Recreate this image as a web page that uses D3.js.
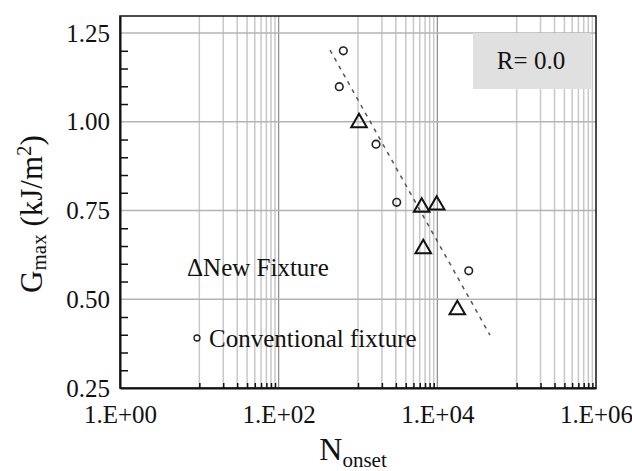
<!DOCTYPE html>
<html>
<head>
<meta charset="utf-8">
<script src="https://cdn.jsdelivr.net/npm/d3@7"></script>
<style>
  body { margin: 0; background: #fff; }
</style>
</head>
<body>
<div id="chart"></div>
<script>
// data
var newFixtureN = [1030, 6350, 9820, 6650, 17860];
var newFixtureG = [1.00, 0.762, 0.768, 0.645, 0.473];
var convN = [653, 581, 1687, 3075, 24880];
var convG = [1.200, 1.099, 0.937, 0.773, 0.580];
var fitN = [444, 46100];
var fitG = [1.202, 0.399];
var xMajor = [1, 1e2, 1e4, 1e6];
var xMajorLabels = ['1.E+00', '1.E+02', '1.E+04', '1.E+06'];
var yMajor = [0.25, 0.50, 0.75, 1.00, 1.25];

var FONT = '"Liberation Serif", "Times New Roman", Times, serif';

var dim = { width: 632, height: 471 };
var m = { left: 120, top: 16, right: 36, bottom: 83 };
var w = dim.width - m.left - m.right,
    h = dim.height - m.top - m.bottom;

var svg = d3.select('#chart').append('svg')
    .attr('width', dim.width)
    .attr('height', dim.height)
    .style('font-family', FONT);

var x = d3.scaleLog().domain([1, 1e6]).range([m.left, m.left + w]);
var y = d3.scaleLinear().domain([0.25, 1.298]).range([m.top + h, m.top]);

// excel style minor ticks: 10..90, 1000..9000, 1e5..9e5
var xMinor = [];
[10, 1000, 1e5].forEach(function (b) {
    for (var k = 1; k <= 9; k++) xMinor.push(b * k);
});
var yMinor = d3.range(0.30, 1.30, 0.05).filter(function (v) {
    return Math.abs(v / 0.25 - Math.round(v / 0.25)) > 0.01;
});

var grid = svg.append('g');
grid.selectAll('.vmin').data(xMinor).enter().append('line')
    .attr('x1', d => x(d)).attr('x2', d => x(d))
    .attr('y1', m.top).attr('y2', m.top + h)
    .attr('stroke', '#c8c8c8').attr('stroke-width', 1.5);
grid.selectAll('.vmaj').data([1e2, 1e4]).enter().append('line')
    .attr('x1', d => x(d)).attr('x2', d => x(d))
    .attr('y1', m.top).attr('y2', m.top + h)
    .attr('stroke', '#8a8a8a').attr('stroke-width', 1.2);
grid.selectAll('.hmaj').data(yMajor.slice(1)).enter().append('line')
    .attr('x1', m.left).attr('x2', m.left + w)
    .attr('y1', d => y(d)).attr('y2', d => y(d))
    .attr('stroke', '#b4b4b4').attr('stroke-width', 1.5);

// R box
svg.append('rect')
    .attr('x', 473).attr('y', 33).attr('width', 118).attr('height', 56)
    .attr('fill', '#e0e0e0');
svg.append('text')
    .attr('x', 531).attr('y', 69)
    .attr('text-anchor', 'middle')
    .style('font-family', FONT).style('font-size', '25px').attr('fill', '#111')
    .text('R= 0.0');

// frame
svg.append('rect')
    .attr('x', m.left).attr('y', m.top).attr('width', w).attr('height', h)
    .attr('fill', 'none').attr('stroke', '#111').attr('stroke-width', 1.5);

// axes
var xAxis = d3.axisBottom(x).tickValues(xMajor)
    .tickFormat((d, i) => xMajorLabels[i]).tickSize(0).tickPadding(17);
var gx = svg.append('g').attr('transform', 'translate(0,' + (m.top + h) + ')').call(xAxis);
gx.attr('font-family', null).attr('font-size', null);
gx.select('.domain').attr('stroke', '#111').attr('stroke-width', 2);
gx.selectAll('text').style('font-family', FONT).style('font-size', '25px').attr('fill', '#111');

var gxm = svg.append('g').attr('transform', 'translate(0,' + (m.top + h) + ')')
    .call(d3.axisTop(x).tickValues(xMinor).tickFormat('').tickSize(5));
gxm.select('.domain').remove();
gxm.selectAll('line').attr('stroke', '#111').attr('stroke-width', 1.5);

var yAxis = d3.axisLeft(y).tickValues(yMajor)
    .tickFormat(d3.format('.2f')).tickSize(0).tickPadding(10);
var gy = svg.append('g').attr('transform', 'translate(' + m.left + ',0)').call(yAxis);
gy.attr('font-family', null).attr('font-size', null);
gy.select('.domain').attr('stroke', '#111').attr('stroke-width', 2);
gy.selectAll('text').style('font-family', FONT).style('font-size', '25px').attr('fill', '#111');

var gym = svg.append('g').attr('transform', 'translate(' + m.left + ',0)')
    .call(d3.axisRight(y).tickValues(yMinor).tickFormat('').tickSize(8));
gym.select('.domain').remove();
gym.selectAll('line').attr('stroke', '#111').attr('stroke-width', 1.5);

// fit line
var line = d3.line().x(d => x(d[0])).y(d => y(d[1]));
svg.append('path')
    .datum(d3.zip(fitN, fitG))
    .attr('d', line)
    .attr('fill', 'none')
    .attr('stroke', '#555')
    .attr('stroke-width', 1.5)
    .attr('stroke-dasharray', '4,5');

// conventional fixture points
svg.selectAll('.conv').data(d3.zip(convN, convG)).enter().append('circle')
    .attr('cx', d => x(d[0])).attr('cy', d => y(d[1])).attr('r', 3.8)
    .attr('fill', 'none').attr('stroke', '#222').attr('stroke-width', 1.6);

// new fixture points
var tri = d3.symbol().type(d3.symbolTriangle).size(105);
svg.selectAll('.newf').data(d3.zip(newFixtureN, newFixtureG)).enter().append('path')
    .attr('d', tri)
    .attr('transform', d => 'translate(' + x(d[0]) + ',' + (y(d[1]) + 1) + ')')
    .attr('fill', 'none').attr('stroke', '#111').attr('stroke-width', 2);

// legend
svg.append('text').attr('x', 187).attr('y', 276)
    .style('font-family', FONT).style('font-size', '25px').attr('fill', '#111')
    .text('\u0394New Fixture');
svg.append('circle').attr('cx', 197).attr('cy', 338).attr('r', 3)
    .attr('fill', 'none').attr('stroke', '#222').attr('stroke-width', 1.3);
svg.append('text').attr('x', 209).attr('y', 347)
    .style('font-family', FONT).style('font-size', '25px').attr('fill', '#111')
    .text('Conventional fixture');

// axis titles
var xt = svg.append('text').attr('x', 353).attr('y', 460)
    .attr('text-anchor', 'middle')
    .style('font-family', FONT).style('font-size', '32px').attr('fill', '#111');
xt.append('tspan').text('N');
xt.append('tspan').style('font-size', '21px').attr('dy', 7).text('onset');

var yt = svg.append('text')
    .attr('transform', 'translate(42,214) rotate(-90)')
    .attr('text-anchor', 'middle')
    .style('font-family', FONT).style('font-size', '31px').attr('fill', '#111');
yt.append('tspan').text('G');
yt.append('tspan').style('font-size', '21px').attr('dy', 4).text('max');
yt.append('tspan').attr('dy', -4).text(' (kJ/m');
yt.append('tspan').style('font-size', '21px').attr('dy', -11).text('2');
yt.append('tspan').attr('dy', 11).text(')');
</script>
</body>
</html>
